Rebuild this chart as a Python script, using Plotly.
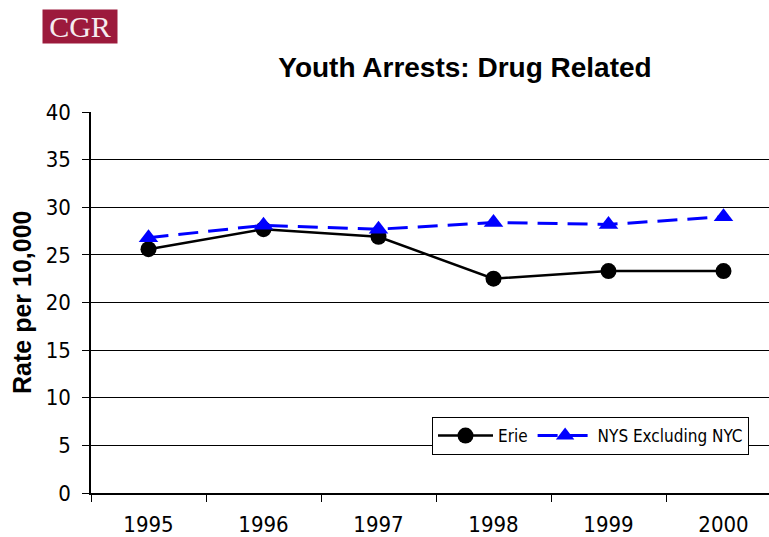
import plotly.graph_objects as go

years = ["1995", "1996", "1997", "1998", "1999", "2000"]
erie = [25.6, 27.7, 26.9, 22.5, 23.3, 23.3]
nys_excl_nyc = [26.8, 28.1, 27.7, 28.4, 28.2, 29.0]
y_ticks = [0, 5, 10, 15, 20, 25, 30, 35, 40]

W, H = 769, 537
L, R, T, B = 91, 0, 112, 44
plot_w = W - L - R
plot_h = H - T - B


def px_x(x):
    return (x - L) / plot_w


def px_y(y):
    return (H - B - y) / plot_h


tick_font = dict(family="DejaVu Sans Condensed, Noto Sans, sans-serif", size=22, color="black")

fig = go.Figure()
fig.add_trace(go.Scatter(x=years, y=erie, name="Erie", mode="lines+markers",
                         line=dict(color="black", width=2.5),
                         marker=dict(symbol="circle", size=16, color="black")))
fig.add_trace(go.Scatter(x=years, y=nys_excl_nyc, name="NYS Excluding NYC", mode="lines+markers",
                         line=dict(color="#0000ff", width=3, dash="20px,10px"),
                         marker=dict(symbol="triangle-up", size=17, color="#0000ff")))

# category width ~115px, right part of the plot area is cut by the picture edge
cat_w = 115.0
fig.update_xaxes(type="category", range=[-0.5, -0.5 + plot_w / cat_w],
                 showline=True, linecolor="black", linewidth=1.5,
                 ticks="outside", ticklen=7, tickcolor="black", tickson="boundaries",
                 showgrid=False, tickfont=tick_font, ticklabelstandoff=11)
fig.update_yaxes(range=[0, 40], tickvals=y_ticks,
                 showline=True, linecolor="black", linewidth=1.5,
                 ticks="outside", ticklen=7, tickcolor="black",
                 showgrid=True, gridcolor="black", gridwidth=1,
                 zeroline=False, tickfont=tick_font, ticklabelstandoff=7)

fig.update_layout(
    width=W, height=H,
    margin=dict(l=L, r=R, t=T, b=B, autoexpand=False),
    paper_bgcolor="white", plot_bgcolor="white",
    title=dict(text="<b>Youth Arrests: Drug Related</b>", xref="paper", x=px_x(465), xanchor="center",
               yref="container", y=1 - 67 / H, yanchor="middle",
               font=dict(family="Liberation Sans, Arial, sans-serif", size=28, color="black")),
    legend=dict(orientation="h", x=px_x(432), y=px_y(417), xanchor="left", yanchor="top",
                bgcolor="white", bordercolor="black", borderwidth=1,
                font=dict(family="DejaVu Sans Condensed, Noto Sans, sans-serif", size=17, color="black"),
                itemwidth=55),
    showlegend=True,
)

fig.add_annotation(text="<b>Rate per 10,000</b>", textangle=-90, xref="paper", yref="paper",
                   x=px_x(22), y=px_y(303), showarrow=False,
                   font=dict(family="Liberation Sans, Arial, sans-serif", size=25, color="black"),
                   xanchor="center", yanchor="middle")

# CGR logo box
fig.add_annotation(text="CGR", xref="paper", yref="paper", x=px_x(80), y=px_y(26.5),
                   showarrow=False, width=74, height=33, bgcolor="#9c1a3c", borderpad=0,
                   font=dict(family="Liberation Serif, Times New Roman, serif", size=30, color="#f6ecef"),
                   xanchor="center", yanchor="middle")

fig.write_html("out.html", config={"displayModeBar": False},
               post_script="document.body.style.margin='0px';")
